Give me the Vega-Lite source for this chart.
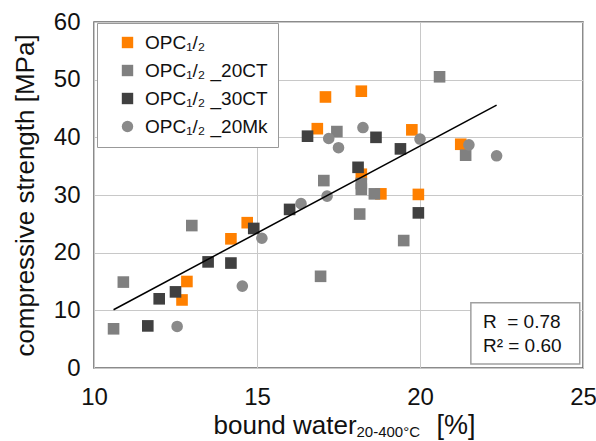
{
  "$schema": "https://vega.github.io/schema/vega-lite/v6.json",
  "width": 489,
  "height": 346,
  "autosize": "none",
  "padding": {"left": 94, "top": 22, "right": 13, "bottom": 73},
  "config": {
    "font": "Liberation Sans",
    "view": {"stroke": "#666666", "strokeWidth": 1.5},
    "axis": {
      "labelFont": "Liberation Sans",
      "titleFont": "Liberation Sans",
      "labelColor": "#111111",
      "titleColor": "#111111",
      "titleFontWeight": "normal",
      "gridColor": "#c8c8c8",
      "gridWidth": 1,
      "ticks": false,
      "tickSize": 0,
      "domain": false
    },
    "legend": {
      "orient": "none",
      "legendX": 3,
      "legendY": 1,
      "padding": 10,
      "symbolOffset": 11,
      "strokeColor": "#999999",
      "fillColor": "white",
      "labelFont": "Liberation Sans",
      "labelFontSize": 19,
      "labelColor": "#111111",
      "labelOffset": 8,
      "rowPadding": 8,
      "symbolSize": 130,
      "symbolStrokeWidth": 0
    }
  },
  "datasets": {
    "points": [
      {"bound_water": 14.7, "strength": 25.2, "series": "OPC₁/₂"},
      {"bound_water": 14.2, "strength": 22.4, "series": "OPC₁/₂"},
      {"bound_water": 12.85, "strength": 15.0, "series": "OPC₁/₂"},
      {"bound_water": 12.7, "strength": 11.8, "series": "OPC₁/₂"},
      {"bound_water": 17.1, "strength": 47.0, "series": "OPC₁/₂"},
      {"bound_water": 18.2, "strength": 48.0, "series": "OPC₁/₂"},
      {"bound_water": 16.85, "strength": 41.5, "series": "OPC₁/₂"},
      {"bound_water": 19.75, "strength": 41.3, "series": "OPC₁/₂"},
      {"bound_water": 18.2, "strength": 33.6, "series": "OPC₁/₂"},
      {"bound_water": 18.8, "strength": 30.2, "series": "OPC₁/₂"},
      {"bound_water": 19.95, "strength": 30.1, "series": "OPC₁/₂"},
      {"bound_water": 21.25, "strength": 38.8, "series": "OPC₁/₂"},
      {"bound_water": 13.0, "strength": 24.7, "series": "OPC₁/₂ _20CT"},
      {"bound_water": 10.9, "strength": 14.9, "series": "OPC₁/₂ _20CT"},
      {"bound_water": 10.6, "strength": 6.8, "series": "OPC₁/₂ _20CT"},
      {"bound_water": 20.6, "strength": 50.5, "series": "OPC₁/₂ _20CT"},
      {"bound_water": 17.45, "strength": 41.0, "series": "OPC₁/₂ _20CT"},
      {"bound_water": 18.2, "strength": 32.0, "series": "OPC₁/₂ _20CT"},
      {"bound_water": 18.2, "strength": 31.0, "series": "OPC₁/₂ _20CT"},
      {"bound_water": 18.6, "strength": 30.2, "series": "OPC₁/₂ _20CT"},
      {"bound_water": 17.05, "strength": 32.5, "series": "OPC₁/₂ _20CT"},
      {"bound_water": 18.15, "strength": 26.7, "series": "OPC₁/₂ _20CT"},
      {"bound_water": 19.5, "strength": 22.1, "series": "OPC₁/₂ _20CT"},
      {"bound_water": 16.95, "strength": 15.9, "series": "OPC₁/₂ _20CT"},
      {"bound_water": 21.4, "strength": 36.9, "series": "OPC₁/₂ _20CT"},
      {"bound_water": 14.9, "strength": 24.2, "series": "OPC₁/₂ _30CT"},
      {"bound_water": 13.5, "strength": 18.4, "series": "OPC₁/₂ _30CT"},
      {"bound_water": 14.2, "strength": 18.2, "series": "OPC₁/₂ _30CT"},
      {"bound_water": 12.5, "strength": 13.2, "series": "OPC₁/₂ _30CT"},
      {"bound_water": 12.0, "strength": 12.0, "series": "OPC₁/₂ _30CT"},
      {"bound_water": 11.65, "strength": 7.3, "series": "OPC₁/₂ _30CT"},
      {"bound_water": 16.55, "strength": 40.2, "series": "OPC₁/₂ _30CT"},
      {"bound_water": 18.65, "strength": 40.0, "series": "OPC₁/₂ _30CT"},
      {"bound_water": 19.4, "strength": 38.0, "series": "OPC₁/₂ _30CT"},
      {"bound_water": 18.1, "strength": 34.8, "series": "OPC₁/₂ _30CT"},
      {"bound_water": 16.0, "strength": 27.5, "series": "OPC₁/₂ _30CT"},
      {"bound_water": 19.95, "strength": 26.9, "series": "OPC₁/₂ _30CT"},
      {"bound_water": 15.15, "strength": 22.5, "series": "OPC₁/₂ _20Mk"},
      {"bound_water": 14.55, "strength": 14.2, "series": "OPC₁/₂ _20Mk"},
      {"bound_water": 12.55, "strength": 7.2, "series": "OPC₁/₂ _20Mk"},
      {"bound_water": 17.2, "strength": 39.8, "series": "OPC₁/₂ _20Mk"},
      {"bound_water": 18.25, "strength": 41.7, "series": "OPC₁/₂ _20Mk"},
      {"bound_water": 20.0, "strength": 39.7, "series": "OPC₁/₂ _20Mk"},
      {"bound_water": 17.5, "strength": 38.2, "series": "OPC₁/₂ _20Mk"},
      {"bound_water": 16.35, "strength": 28.5, "series": "OPC₁/₂ _20Mk"},
      {"bound_water": 17.15, "strength": 29.8, "series": "OPC₁/₂ _20Mk"},
      {"bound_water": 21.5, "strength": 38.7, "series": "OPC₁/₂ _20Mk"},
      {"bound_water": 22.35, "strength": 36.8, "series": "OPC₁/₂ _20Mk"}
    ],
    "trend": [
      {"bound_water": 10.6, "strength": 10.1},
      {"bound_water": 22.35, "strength": 45.6}
    ],
    "rbox": [
      {"x1": 21.56, "x2": 24.9, "y1": 0.7, "y2": 11.3}
    ],
    "rtext": [
      {"bound_water": 21.93, "strength": 8.0, "label": "R\u00a0\u00a0= 0.78"},
      {"bound_water": 21.93, "strength": 3.8, "label": "R² = 0.60"}
    ]
  },
  "layer": [
    {
      "data": {"name": "points"},
      "mark": {"type": "point", "filled": true, "size": 135, "opacity": 1, "strokeWidth": 0},
      "encoding": {
        "x": {
          "field": "bound_water", "type": "quantitative",
          "scale": {"domain": [10, 25], "nice": false, "zero": false},
          "axis": {
            "orient": "bottom", "values": [10, 15, 20, 25], "labelFontSize": 24, "labelPadding": 17,
            "labelFlush": false, "grid": true, "title": "bound water", "titleFontSize": 26,
            "titleX": 119, "titleY": 65, "titleAlign": "left", "titleBaseline": "alphabetic"
          }
        },
        "y": {
          "field": "strength", "type": "quantitative",
          "scale": {"domain": [0, 60], "nice": false, "zero": true},
          "axis": {
            "orient": "left", "values": [0, 10, 20, 30, 40, 50, 60], "labelFontSize": 24, "labelPadding": 14,
            "labelFlush": false, "grid": true, "title": "compressive strength [MPa]", "titleFontSize": 26,
            "titleX": -69, "titleY": 173, "titleAngle": -90, "titleAlign": "center", "titleBaseline": "middle"
          }
        },
        "color": {
          "field": "series", "type": "nominal",
          "scale": {"domain": ["OPC₁/₂", "OPC₁/₂ _20CT", "OPC₁/₂ _30CT", "OPC₁/₂ _20Mk"], "range": ["#ff8000", "#808080", "#404040", "#8a8a8a"]},
          "legend": {"title": null}
        },
        "shape": {
          "field": "series", "type": "nominal",
          "scale": {"domain": ["OPC₁/₂", "OPC₁/₂ _20CT", "OPC₁/₂ _30CT", "OPC₁/₂ _20Mk"], "range": ["square", "square", "square", "circle"]},
          "legend": {"title": null}
        }
      }
    },
    {
      "data": {"name": "trend"},
      "mark": {"type": "line", "color": "#000000", "strokeWidth": 1.5},
      "encoding": {
        "x": {
          "field": "bound_water", "type": "quantitative",
          "scale": {"domain": [10, 25], "nice": false, "zero": false},
          "axis": {
            "orient": "bottom", "labels": false, "grid": false, "title": "20-400°C", "titleFontSize": 15,
            "titleX": 262, "titleY": 68, "titleAlign": "left", "titleBaseline": "alphabetic"
          }
        },
        "y": {"field": "strength", "type": "quantitative", "axis": null}
      }
    },
    {
      "data": {"name": "rbox"},
      "mark": {"type": "rect", "fill": "white", "stroke": "#a0a0a0", "strokeWidth": 1.5},
      "encoding": {
        "x": {
          "field": "x1", "type": "quantitative",
          "scale": {"domain": [10, 25], "nice": false, "zero": false},
          "axis": {
            "orient": "bottom", "labels": false, "grid": false, "title": "[%]", "titleFontSize": 27,
            "titleX": 342, "titleY": 65, "titleAlign": "left", "titleBaseline": "alphabetic"
          }
        },
        "x2": {"field": "x2"},
        "y": {"field": "y1", "type": "quantitative", "axis": null},
        "y2": {"field": "y2"}
      }
    },
    {
      "data": {"name": "rtext"},
      "mark": {"type": "text", "align": "left", "baseline": "middle", "fontSize": 19, "font": "Liberation Sans", "color": "#111111"},
      "encoding": {
        "x": {"field": "bound_water", "type": "quantitative", "axis": null},
        "y": {"field": "strength", "type": "quantitative", "axis": null},
        "text": {"field": "label"}
      }
    }
  ],
  "resolve": {"axis": {"x": "independent", "y": "independent"}}
}
